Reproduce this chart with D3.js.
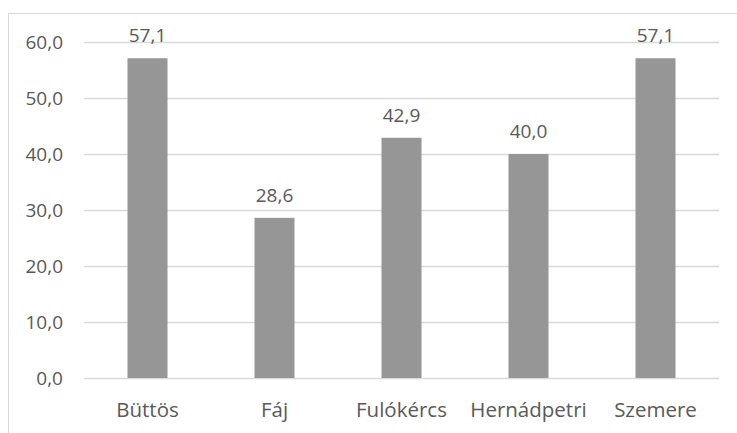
<!DOCTYPE html>
<html><head><meta charset="utf-8">
<script src="https://cdn.jsdelivr.net/npm/d3@7"></script>
<style>body{margin:0;background:#fff}svg{display:block}text{font-family:"Open Sans",sans-serif;fill:#595959}</style>
</head><body>
<script>
const categories = ["Büttös","Fáj","Fulókércs","Hernádpetri","Szemere"];
const values = [57.1,28.6,42.9,40.0,57.1];
const yTicks = [0,10,20,30,40,50,60];

const W=737,H=433;
const svg=d3.select("body").append("svg").attr("width",W).attr("height",H);
svg.append("rect").attr("x",8.5).attr("y",13.5).attr("width",W-8).attr("height",H-13)
  .attr("fill","none").attr("stroke","#d9d9d9");
const x=d3.scaleBand().domain(categories).range([84,719]).paddingInner(0.685).paddingOuter(0.3425);
const y=d3.scaleLinear().domain([0,60]).range([378,42]);
const fmt=v=>v.toFixed(1).replace(".",",");
const g=svg.append("g");
g.selectAll("line.grid").data(yTicks).enter().append("line")
  .attr("x1",84).attr("x2",719).attr("y1",d=>Math.round(y(d))+0.5).attr("y2",d=>Math.round(y(d))+0.5)
  .attr("stroke","#d9d9d9").attr("stroke-width",1.3);
g.selectAll("text.yl").data(yTicks).enter().append("text")
  .attr("x",63).attr("y",d=>y(d)).attr("dy","0.36em").attr("text-anchor","end")
  .attr("font-size",19).text(fmt);
g.selectAll("rect.bar").data(values).enter().append("rect")
  .attr("x",(d,i)=>x(categories[i])).attr("width",x.bandwidth())
  .attr("y",d=>y(d)).attr("height",d=>y(0)-y(d)).attr("fill","#969696");
g.selectAll("text.vl").data(values).enter().append("text")
  .attr("x",(d,i)=>x(categories[i])+x.bandwidth()/2).attr("y",d=>y(d)-16)
  .attr("text-anchor","middle").attr("font-size",19).text(fmt);
g.selectAll("text.xl").data(categories).enter().append("text")
  .attr("x",d=>x(d)+x.bandwidth()/2).attr("y",417)
  .attr("text-anchor","middle").attr("font-size",20.5).text(d=>d);
</script>
</body></html>
